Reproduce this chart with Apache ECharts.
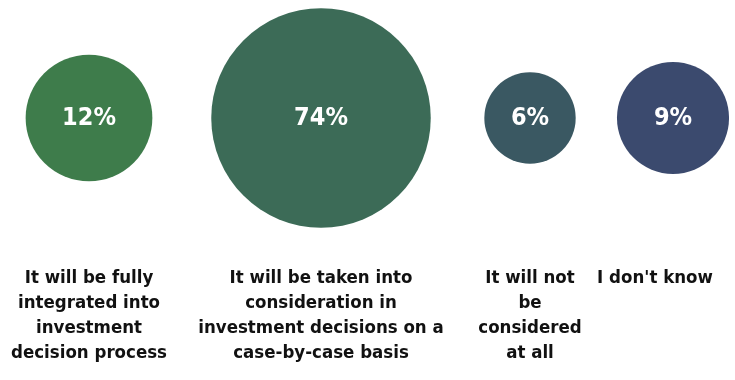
<!DOCTYPE html>
<html>
<head>
<meta charset="utf-8">
<script src="https://cdn.jsdelivr.net/npm/echarts@6/dist/echarts.min.js"></script>
<style>
  html, body { margin: 0; padding: 0; background: #ffffff; }
  #chart { width: 735px; height: 380px; }
</style>
</head>
<body>
<div id="chart"></div>
<script>
// Survey answers and their shares (%)
const categories = [
  'It will be fully\nintegrated into\ninvestment\ndecision process',
  'It will be taken into\nconsideration in\ninvestment decisions on a\ncase-by-case basis',
  'It will not\nbe\nconsidered\nat all',
  "I don't know"
];
const shares = [12, 74, 6, 9];

const palette = ['#3e7c4b', '#3c6b57', '#3a5862', '#3b4a6e'];
const FONT = '"DejaVu Sans Condensed", "Liberation Sans", sans-serif';

// Column layout: horizontal centre of each answer's column
const columnCentres = [89, 321, 530, 673];
const columnWidth = 100;
const labelShift = [0, 0, 0, 36];

// Bubble diameter grows with the logarithm of the share
const bubbleSize = v => 51 * Math.log(v);

const grids = [], xAxes = [], yAxes = [], series = [];
categories.forEach((cat, i) => {
  grids.push({
    left: columnCentres[i] - columnWidth / 2,
    width: columnWidth,
    top: 0,
    height: 236,
    containLabel: false,
    outerBoundsMode: 'none'
  });
  xAxes.push({
    type: 'category',
    gridIndex: i,
    data: [cat],
    axisLine: { show: false },
    axisTick: { show: false },
    splitLine: { show: false },
    axisLabel: {
      interval: 0,
      margin: 30,
      color: '#111111',
      fontFamily: FONT,
      fontWeight: 'bold',
      fontSize: 18.5,
      lineHeight: 25,
      align: 'center',
      padding: [0, labelShift[i], 0, 0]
    }
  });
  yAxes.push({
    type: 'value',
    gridIndex: i,
    min: 0,
    max: 2,
    show: false
  });
  series.push({
    type: 'scatter',
    xAxisIndex: i,
    yAxisIndex: i,
    data: [[0, 1, shares[i]]],
    symbol: 'circle',
    symbolSize: d => bubbleSize(d[2]),
    itemStyle: { color: palette[i], opacity: 1 },
    label: {
      show: true,
      position: 'inside',
      formatter: p => p.data[2] + '%',
      color: '#ffffff',
      fontFamily: FONT,
      fontWeight: 'bold',
      fontSize: 25
    },
    emphasis: { disabled: true },
    silent: true
  });
});

const chart = echarts.init(document.getElementById('chart'), null, { renderer: 'canvas' });
chart.setOption({
  animation: false,
  backgroundColor: '#ffffff',
  grid: grids,
  xAxis: xAxes,
  yAxis: yAxes,
  series: series
});
</script>
</body>
</html>
